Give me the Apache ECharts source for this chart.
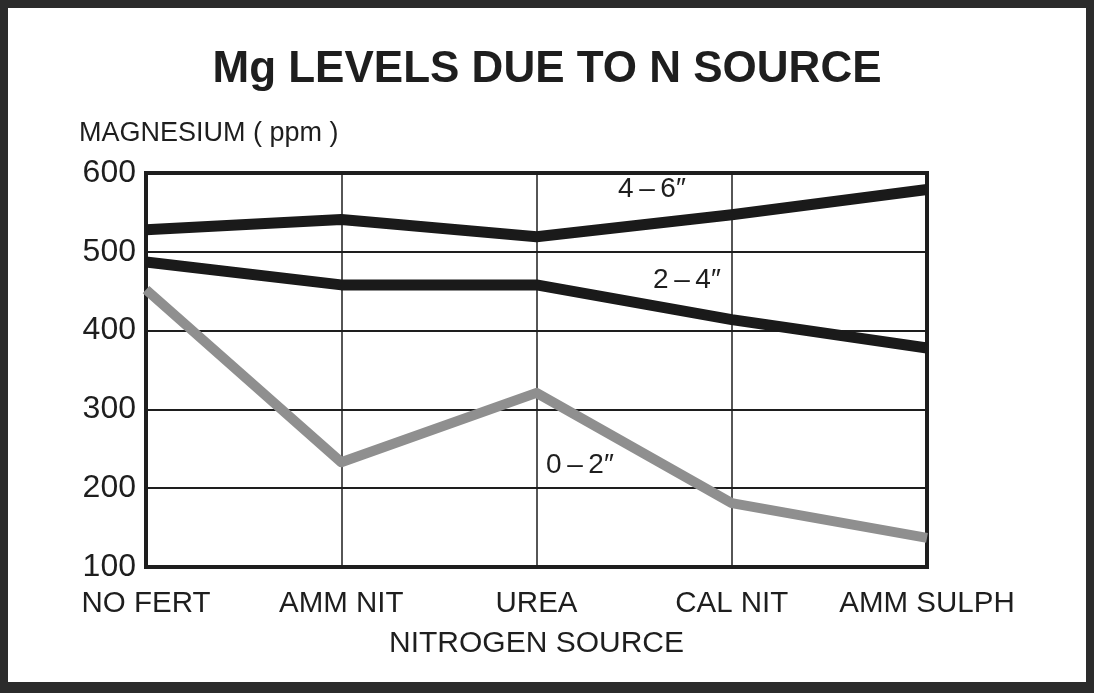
<!DOCTYPE html>
<html>
<head>
<meta charset="utf-8">
<script src="https://cdn.jsdelivr.net/npm/echarts@6/dist/echarts.min.js"></script>
<style>
  html, body { margin: 0; padding: 0; background: #fff; }
  #chart { position: absolute; left: 0; top: 0; width: 1094px; height: 693px; }
  #frame {
    position: absolute; left: 0; top: 0; width: 1094px; height: 693px;
    box-sizing: border-box; pointer-events: none;
    border-style: solid; border-color: #2b2b2b;
    border-width: 8px 8px 11px 8px;
  }
</style>
</head>
<body>
<div id="chart"></div>
<div id="frame"></div>
<script>
const sources = ['NO FERT', 'AMM NIT', 'UREA', 'CAL NIT', 'AMM SULPH'];
const depth46 = [528, 541, 519, 547, 579];
const depth24 = [487, 458, 458, 414, 378];
const depth02 = [452, 233, 321, 181, 137];
const yTicks = [100, 200, 300, 400, 500, 600];
const depthLabels = ['4\u2009\u2013\u20096\u2033', '2\u2009\u2013\u20094\u2033', '0\u2009\u2013\u20092\u2033'];

const font = '"Liberation Sans", Arial, Helvetica, sans-serif';
const ink = '#1e1e1e';

const chart = echarts.init(document.getElementById('chart'));

chart.setOption({
  backgroundColor: '#fff',
  animation: false,
  title: [
    {
      text: 'Mg LEVELS DUE TO N SOURCE',
      left: 'center',
      top: 43,
      textStyle: { fontFamily: font, fontSize: 44, fontWeight: 'bold', color: ink }
    },
    {
      text: 'MAGNESIUM ( ppm )',
      left: 74,
      top: 115,
      textStyle: { fontFamily: font, fontSize: 27, fontWeight: 'normal', color: ink }
    }
  ],
  grid: {
    left: 146, right: 167, top: 173, bottom: 126,
    show: true, borderColor: ink, borderWidth: 4, backgroundColor: '#fff'
  },
  xAxis: {
    type: 'category',
    data: sources,
    boundaryGap: false,
    name: 'NITROGEN SOURCE',
    nameLocation: 'middle',
    nameGap: 62,
    nameTextStyle: { fontFamily: font, fontSize: 30, color: ink },
    axisLine: { show: false },
    axisTick: { show: false },
    axisLabel: { interval: 0, fontFamily: font, fontSize: 29.5, color: ink, margin: 22 },
    splitLine: { show: true, interval: 0, lineStyle: { color: ink, width: 1.5 } }
  },
  yAxis: {
    type: 'value',
    min: yTicks[0],
    max: yTicks[yTicks.length - 1],
    interval: 100,
    axisLine: { show: false },
    axisTick: { show: false },
    axisLabel: { fontFamily: font, fontSize: 32, color: ink, margin: 10 },
    splitLine: { show: true, lineStyle: { color: ink, width: 2 } }
  },
  graphic: [
    { type: 'text', left: 618, top: 175, style: { text: depthLabels[0], font: '28px ' + font, fill: ink } },
    { type: 'text', left: 653, top: 266, style: { text: depthLabels[1], font: '28px ' + font, fill: ink } },
    { type: 'text', left: 546, top: 451, style: { text: depthLabels[2], font: '28px ' + font, fill: ink } }
  ],
  series: [
    {
      name: '4-6"', type: 'line', data: depth46, symbol: 'none',
      lineStyle: { color: '#1a1a1a', width: 11, cap: 'butt', join: 'round' }, z: 3
    },
    {
      name: '2-4"', type: 'line', data: depth24, symbol: 'none',
      lineStyle: { color: '#1a1a1a', width: 11, cap: 'butt', join: 'round' }, z: 3
    },
    {
      name: '0-2"', type: 'line', data: depth02, symbol: 'none',
      lineStyle: { color: '#8f8f8f', width: 10, cap: 'butt', join: 'round' }, z: 2
    }
  ]
});
</script>
</body>
</html>
